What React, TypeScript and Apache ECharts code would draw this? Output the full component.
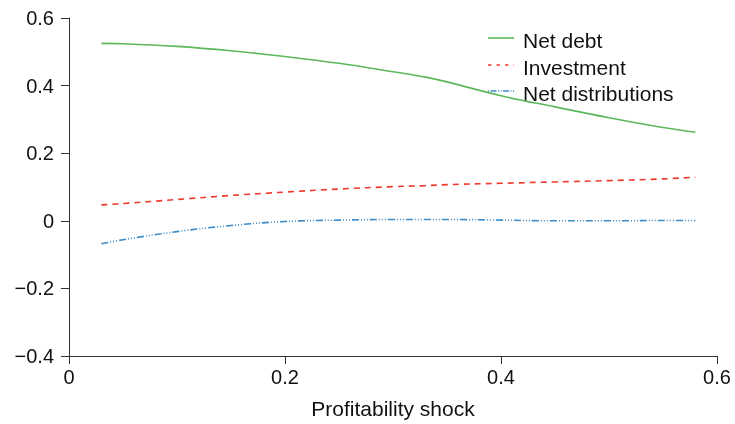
import React, { useEffect, useRef } from "react";
import * as echarts from "echarts";

const shocks = [0.03, 0.05, 0.1, 0.15, 0.2, 0.25, 0.3, 0.33, 0.35, 0.4, 0.45, 0.5, 0.55, 0.58];
const netDebt = [0.525, 0.524, 0.516, 0.503, 0.486, 0.466, 0.441, 0.425, 0.411, 0.37, 0.337, 0.305, 0.276, 0.262];
const investment = [0.047, 0.051, 0.063, 0.075, 0.085, 0.094, 0.101, 0.104, 0.107, 0.111, 0.115, 0.119, 0.124, 0.129];
const netDistributions = [-0.068, -0.056, -0.032, -0.014, -0.002, 0.002, 0.004, 0.004, 0.004, 0.002, 0.0, 0.0, 0.001, 0.001];
const seriesNames = ["Net debt", "Investment", "Net distributions"];
const colors = ["#5cb85a", "#ee3a2c", "#3d8cc8"];

const FONT = "'Liberation Sans', Arial, Helvetica, sans-serif";
const FS = 20;
const FS_BIG = 21;

export default function App() {
  const ref = useRef<HTMLDivElement>(null);
  useEffect(() => {
    if (!ref.current) return;
    const chart = echarts.init(ref.current, undefined, { renderer: "svg" });
    const mk = (vals: number[]) => shocks.map((x, i) => [x, vals[i]]);
    const lineDashes: any[] = [null, [6, 5], [7, 2, 1, 2, 1, 2, 1, 2]];
    const legendDashes: any[] = [null, [3.5, 5], [1, 1.5, 6, 1.5, 1, 1.5]];
    const data = [netDebt, investment, netDistributions];
    const legendRows = [38, 65, 91];
    const legendGraphics: any[] = [];
    seriesNames.forEach((name, i) => {
      legendGraphics.push({
        type: "line",
        shape: { x1: 488, y1: legendRows[i], x2: 514, y2: legendRows[i] },
        style: {
          stroke: colors[i],
          lineWidth: 1.6,
          lineDash: legendDashes[i] || undefined,
        },
      });
      legendGraphics.push({
        type: "text",
        x: 523,
        y: legendRows[i] + 2,
        style: {
          text: name,
          font: `${FS_BIG}px ${FONT}`,
          fill: "#111",
          verticalAlign: "middle",
        },
      });
    });
    chart.setOption({
      animation: false,
      textStyle: { fontFamily: FONT },
      grid: {
        left: 69,
        right: 18,
        top: 18,
        bottom: 68,
        containLabel: false,
        outerBoundsMode: "none",
      },
      graphic: legendGraphics,
      xAxis: {
        type: "value",
        min: 0,
        max: 0.6,
        interval: 0.2,
        splitLine: { show: false },
        axisLine: { onZero: false, lineStyle: { color: "#333", width: 1 } },
        axisTick: { length: 8, lineStyle: { color: "#333" } },
        axisLabel: {
          fontSize: FS,
          color: "#111",
          margin: 11,
          fontFamily: FONT,
          formatter: (v: number) => (v === 0 ? "0" : v.toFixed(1)),
        },
        name: "Profitability shock",
        nameLocation: "middle",
        nameGap: 42,
        nameTextStyle: { fontSize: FS_BIG, color: "#111", fontFamily: FONT },
      },
      yAxis: {
        type: "value",
        min: -0.4,
        max: 0.6,
        interval: 0.2,
        splitLine: { show: false },
        axisLine: { show: true, onZero: false, lineStyle: { color: "#333", width: 1 } },
        axisTick: { show: true, length: 8, lineStyle: { color: "#333" } },
        axisLabel: {
          fontSize: FS,
          color: "#111",
          margin: 15,
          fontFamily: FONT,
          formatter: (v: number) =>
            Math.abs(v) < 1e-9 ? "0" : v.toFixed(1).replace("-", "\u2212"),
        },
      },
      series: seriesNames.map((name, i) => ({
        name,
        type: "line",
        data: mk(data[i]),
        smooth: 0.4,
        symbol: "none",
        showSymbol: false,
        color: colors[i],
        lineStyle: {
          color: colors[i],
          width: 1.6,
          type: lineDashes[i] || "solid",
        },
      })),
    });
    return () => chart.dispose();
  }, []);
  return (
    <div
      ref={ref}
      style={{ position: "fixed", left: 0, top: 0, width: 735, height: 424 }}
    />
  );
}
